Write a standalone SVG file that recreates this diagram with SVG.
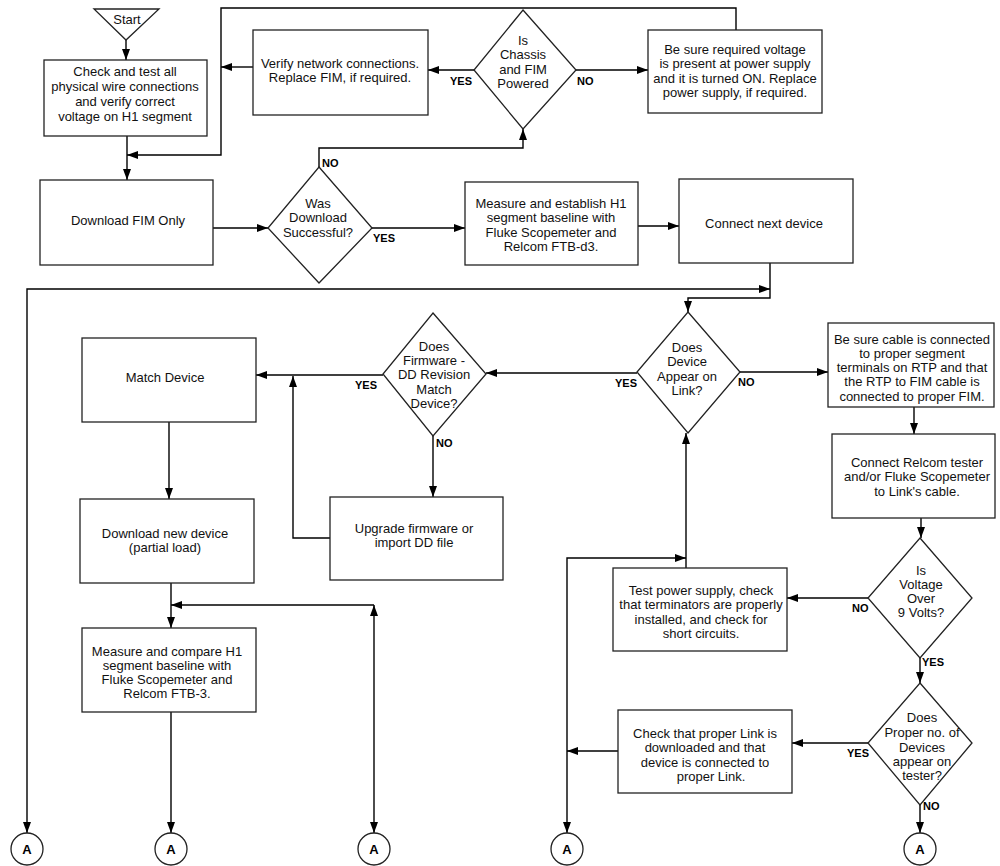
<svg xmlns="http://www.w3.org/2000/svg" width="1000" height="866" viewBox="0 0 1000 866">
<defs>
<marker id="ah" markerUnits="userSpaceOnUse" markerWidth="11" markerHeight="8" viewBox="0 0 11 8" refX="11" refY="4" orient="auto-start-reverse">
<path d="M0,0 L11,4 L0,8 z" fill="#000"/>
</marker>
<style>
.b{fill:#fff;stroke:#222;stroke-width:1.3}
.t{font-family:"Liberation Sans",Arial,sans-serif;font-size:13px;fill:#111;text-anchor:middle}
.l{font-family:"Liberation Sans",Arial,sans-serif;font-size:11px;font-weight:bold;fill:#000}
.a{font-family:"Liberation Sans",Arial,sans-serif;font-size:13px;font-weight:bold;fill:#000;text-anchor:middle}
.c{fill:none;stroke:#000;stroke-width:1.4}
.ca{fill:none;stroke:#000;stroke-width:1.4;marker-end:url(#ah)}
.cb{fill:none;stroke:#000;stroke-width:1.4;marker-start:url(#ah);marker-end:url(#ah)}
</style>
</defs>
<rect width="1000" height="866" fill="#fff"/>

<g id="connectors">
<path class="ca" d="M126,40 V60"/>
<path class="ca" d="M127,136 V180"/>
<path class="ca" d="M736,30 V8 H221 V155 H127"/>
<path class="ca" d="M253,67 H221"/>
<path class="ca" d="M474,70 H428"/>
<path class="ca" d="M576,70 H648"/>
<path class="ca" d="M319,167 V148 H523 V129"/>
<path class="ca" d="M213,228 H268"/>
<path class="ca" d="M372,228 H465"/>
<path class="ca" d="M638,226 H679"/>
<path class="ca" d="M770,263 V298 H688 V312"/>
<path class="cb" d="M770,289 H27 V833"/>
<path class="ca" d="M637,373 H486"/>
<path class="ca" d="M740,372 H828"/>
<path class="ca" d="M383,375 H256"/>
<path class="ca" d="M330,538 H293 V376"/>
<path class="ca" d="M433,436 V497"/>
<path class="ca" d="M914,407 V434"/>
<path class="ca" d="M921,518 V538"/>
<path class="ca" d="M868,598 H787"/>
<path class="ca" d="M920,658 V683"/>
<path class="ca" d="M868,743 H792"/>
<path class="ca" d="M920,805 V833"/>
<path class="ca" d="M618,751 H567"/>
<path class="ca" d="M686,568 V433"/>
<path class="cb" d="M686,558 H567 V833"/>
<path class="ca" d="M169,422 V499"/>
<path class="ca" d="M171,583 V628"/>
<path class="ca" d="M374,605 H171"/>
<path class="cb" d="M374,605 V833"/>
<path class="ca" d="M171,712 V833"/>
</g>

<g id="start">
<polygon class="b" points="94,9 159,9 126,40"/>
<text class="t" x="127" y="24">Start</text>
</g>

<g id="check-wires">
<rect class="b" x="44" y="60" width="163" height="76"/>
<text class="t" x="125" y="76">Check and test all</text>
<text class="t" x="125" y="91">physical wire connections</text>
<text class="t" x="125" y="106">and verify correct</text>
<text class="t" x="125" y="121">voltage on H1 segment</text>
</g>

<g id="verify-network">
<rect class="b" x="253" y="30" width="175" height="85"/>
<text class="t" x="340" y="67.5">Verify network connections.</text>
<text class="t" x="340" y="81.5">Replace FIM, if required.</text>
</g>

<g id="chassis-powered">
<polygon class="b" points="523,10 576,70 523,129 474,70"/>
<text class="t" x="523" y="44.5">Is</text>
<text class="t" x="523" y="59">Chassis</text>
<text class="t" x="523" y="73.5">and FIM</text>
<text class="t" x="523" y="88">Powered</text>
<text class="l" x="450" y="85">YES</text>
<text class="l" x="577" y="85">NO</text>
</g>

<g id="be-sure-voltage">
<rect class="b" x="648" y="30" width="174" height="83"/>
<text class="t" x="735" y="53.5">Be sure required voltage</text>
<text class="t" x="735" y="68">is present at power supply</text>
<text class="t" x="735" y="82.5">and it is turned ON. Replace</text>
<text class="t" x="735" y="97">power supply, if required.</text>
</g>

<g id="download-fim">
<rect class="b" x="40" y="180" width="173" height="85"/>
<text class="t" x="128" y="224.5">Download FIM Only</text>
</g>

<g id="was-download">
<polygon class="b" points="319,167 372,228 319,283 268,228"/>
<text class="t" x="318" y="207.5">Was</text>
<text class="t" x="318" y="221.5">Download</text>
<text class="t" x="318" y="236.5">Successful?</text>
<text class="l" x="322" y="167">NO</text>
<text class="l" x="373" y="242">YES</text>
</g>

<g id="measure-establish">
<rect class="b" x="465" y="182" width="173" height="83"/>
<text class="t" x="551" y="207.5">Measure and establish H1</text>
<text class="t" x="551" y="222">segment baseline with</text>
<text class="t" x="551" y="236.5">Fluke Scopemeter and</text>
<text class="t" x="551" y="251">Relcom FTB-d3.</text>
</g>

<g id="connect-next">
<rect class="b" x="679" y="179" width="174" height="84"/>
<text class="t" x="764" y="227.5">Connect next device</text>
</g>

<g id="match-device">
<rect class="b" x="82" y="338" width="174" height="84"/>
<text class="t" x="165" y="381.5">Match Device</text>
</g>

<g id="firmware-match">
<polygon class="b" points="433,313 486,374 433,436 383,374"/>
<text class="t" x="434" y="350.5">Does</text>
<text class="t" x="434" y="364.5">Firmware -</text>
<text class="t" x="434" y="378.5">DD Revision</text>
<text class="t" x="434" y="393.5">Match</text>
<text class="t" x="434" y="407.5">Device?</text>
<text class="l" x="355" y="389">YES</text>
<text class="l" x="436" y="447">NO</text>
</g>

<g id="device-appear">
<polygon class="b" points="688,312 740,372 688,433 637,372"/>
<text class="t" x="687" y="351.5">Does</text>
<text class="t" x="687" y="365.5">Device</text>
<text class="t" x="687" y="380.5">Appear on</text>
<text class="t" x="687" y="394.5">Link?</text>
<text class="l" x="615" y="387">YES</text>
<text class="l" x="738" y="386">NO</text>
</g>

<g id="be-sure-cable">
<rect class="b" x="828" y="323" width="166" height="84"/>
<text class="t" x="912" y="343.5">Be sure cable is connected</text>
<text class="t" x="912" y="357.5">to proper segment</text>
<text class="t" x="912" y="371.5">terminals on RTP and that</text>
<text class="t" x="912" y="385.5">the RTP to FIM cable is</text>
<text class="t" x="912" y="400.5">connected to proper FIM.</text>
</g>

<g id="connect-relcom">
<rect class="b" x="832" y="434" width="163" height="84"/>
<text class="t" x="917" y="466.5">Connect Relcom tester</text>
<text class="t" x="917" y="480.5">and/or Fluke Scopemeter</text>
<text class="t" x="917" y="495.5">to Link's cable.</text>
</g>

<g id="upgrade-firmware">
<rect class="b" x="330" y="497" width="173" height="83"/>
<text class="t" x="414" y="532.5">Upgrade firmware or</text>
<text class="t" x="414" y="546.5">import DD file</text>
</g>

<g id="download-new">
<rect class="b" x="80" y="499" width="174" height="84"/>
<text class="t" x="165" y="537.5">Download new device</text>
<text class="t" x="165" y="551.5">(partial load)</text>
</g>

<g id="voltage-over">
<polygon class="b" points="920,538 972,598 920,658 868,598"/>
<text class="t" x="921" y="575">Is</text>
<text class="t" x="921" y="589">Voltage</text>
<text class="t" x="921" y="603">Over</text>
<text class="t" x="921" y="617">9 Volts?</text>
<text class="l" x="852" y="612">NO</text>
<text class="l" x="922" y="666">YES</text>
</g>

<g id="test-power">
<rect class="b" x="613" y="568" width="174" height="83"/>
<text class="t" x="701" y="594.5">Test power supply, check</text>
<text class="t" x="701" y="608.5">that terminators are properly</text>
<text class="t" x="701" y="623.5">installed, and check for</text>
<text class="t" x="701" y="637.5">short circuits.</text>
</g>

<g id="measure-compare">
<rect class="b" x="82" y="628" width="174" height="84"/>
<text class="t" x="167" y="655.5">Measure and compare H1</text>
<text class="t" x="167" y="669.5">segment baseline with</text>
<text class="t" x="167" y="683.5">Fluke Scopemeter and</text>
<text class="t" x="167" y="697.5">Relcom FTB-3.</text>
</g>

<g id="proper-devices">
<polygon class="b" points="920,683 972,743 920,805 868,743"/>
<text class="t" x="922" y="721.5">Does</text>
<text class="t" x="922" y="736.5">Proper no. of</text>
<text class="t" x="922" y="751.5">Devices</text>
<text class="t" x="922" y="765.5">appear on</text>
<text class="t" x="922" y="779.5">tester?</text>
<text class="l" x="847" y="757">YES</text>
<text class="l" x="923" y="810">NO</text>
</g>

<g id="check-link">
<rect class="b" x="618" y="710" width="174" height="83"/>
<text class="t" x="705" y="737.5">Check that proper Link is</text>
<text class="t" x="705" y="752">downloaded and that</text>
<text class="t" x="705" y="766.5">device is connected to</text>
<text class="t" x="711" y="781">proper Link.</text>
</g>

<g id="a1"><circle class="b" cx="27" cy="849" r="16"/><text class="a" x="27" y="854">A</text></g>
<g id="a2"><circle class="b" cx="171" cy="849" r="16"/><text class="a" x="171" y="854">A</text></g>
<g id="a3"><circle class="b" cx="374" cy="849" r="16"/><text class="a" x="374" y="854">A</text></g>
<g id="a4"><circle class="b" cx="567" cy="849" r="16"/><text class="a" x="567" y="854">A</text></g>
<g id="a5"><circle class="b" cx="920" cy="849" r="16"/><text class="a" x="920" y="854">A</text></g>
</svg>
